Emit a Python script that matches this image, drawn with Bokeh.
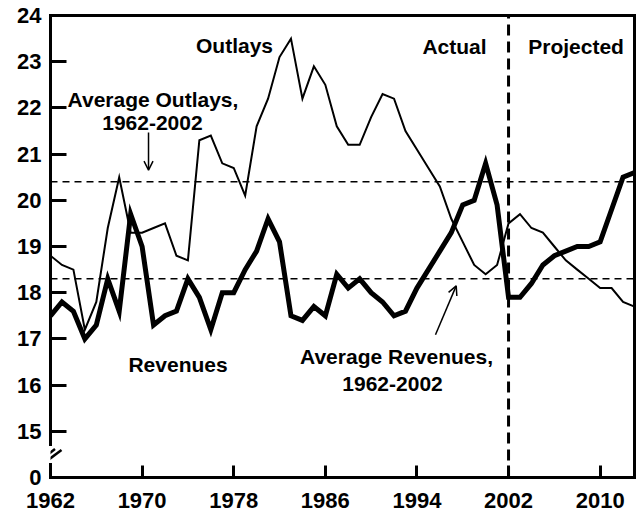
from bokeh.plotting import figure
from bokeh.models import Range1d, LinearAxis, FixedTicker, Label, Arrow, OpenHead
from bokeh.embed import file_html
from bokeh.resources import INLINE

# ---------------- data ----------------
years = list(range(1962, 2014))
outlays = [18.8, 18.6, 18.5, 17.2, 17.8, 19.4, 20.5, 19.3, 19.3, 19.4,
           19.5, 18.8, 18.7, 21.3, 21.4, 20.8, 20.7, 20.1, 21.6, 22.2,
           23.1, 23.5, 22.2, 22.9, 22.5, 21.6, 21.2, 21.2, 21.8, 22.3,
           22.2, 21.5, 21.1, 20.7, 20.3, 19.6, 19.1, 18.6, 18.4, 18.6,
           19.5, 19.7, 19.4, 19.3, 19.0, 18.7, 18.5, 18.3, 18.1, 18.1,
           17.8, 17.7]
revenues = [17.5, 17.8, 17.6, 17.0, 17.3, 18.3, 17.6, 19.7, 19.0, 17.3,
            17.5, 17.6, 18.3, 17.9, 17.2, 18.0, 18.0, 18.5, 18.9, 19.6,
            19.1, 17.5, 17.4, 17.7, 17.5, 18.4, 18.1, 18.3, 18.0, 17.8,
            17.5, 17.6, 18.1, 18.5, 18.9, 19.3, 19.9, 20.0, 20.8, 19.9,
            17.9, 17.9, 18.2, 18.6, 18.8, 18.9, 19.0, 19.0, 19.1, 19.8,
            20.5, 20.6]
avg_outlays = 20.4
avg_revenues = 18.3
split_year = 2002
x_ticks = [1962, 1970, 1978, 1986, 1994, 2002, 2010]
y_ticks = [15, 16, 17, 18, 19, 20, 21, 22, 23, 24]
y_label_ticks = [14, 15, 16, 17, 18, 19, 20, 21, 22, 23, 24]
y_zero_label = {14: "0"}

FONT = "Liberation Sans"
X0, X1 = 1962, 2013
Y0, Y1 = 14, 24
BREAK_LO, BREAK_HI = 14.28, 14.713

p = figure(width=637, height=516, output_backend="svg", toolbar_location=None,
           x_range=Range1d(X0, X1), y_range=Range1d(Y0, Y1),
           x_axis_location=None, y_axis_location=None,
           min_border_left=50, min_border_right=3, min_border_top=15,
           min_border_bottom=39)
p.outline_line_color = None
p.xgrid.grid_line_color = None
p.ygrid.grid_line_color = None
p.background_fill_color = "white"
p.border_fill_color = "white"


def style_axis(ax, tick_in, standoff, size="22px"):
    ax.axis_line_width = 3
    ax.axis_line_color = "black"
    ax.axis_line_cap = "square"
    ax.major_tick_line_width = 3
    ax.major_tick_line_color = "black"
    ax.major_tick_in = tick_in
    ax.major_tick_out = 0
    ax.minor_tick_line_color = None
    ax.major_label_text_font = FONT
    ax.major_label_text_font_style = "bold"
    ax.major_label_text_font_size = size
    ax.major_label_text_color = "black"
    ax.major_label_standoff = standoff


def hide_labels(ax, ticks):
    ax.major_label_overrides = {t: "" for t in ticks}
    ax.major_label_text_alpha = 0
    ax.major_label_text_font_size = "1px"
    ax.major_label_standoff = 0


# bottom axis
xax = LinearAxis(ticker=FixedTicker(ticks=x_ticks))
style_axis(xax, 12, 15)
p.add_layout(xax, "below")

# left axis: short stub below the break
yax_stub = LinearAxis(ticker=FixedTicker(ticks=[Y0]), bounds=(Y0, BREAK_LO))
style_axis(yax_stub, 0, 0)
yax_stub.major_tick_line_alpha = 0
hide_labels(yax_stub, [Y0])
p.add_layout(yax_stub, "left")

# left axis: main line above the break, with inward ticks
yax_main = LinearAxis(ticker=FixedTicker(ticks=y_ticks), bounds=(BREAK_HI, Y1))
style_axis(yax_main, 16, 0)
hide_labels(yax_main, y_ticks)
p.add_layout(yax_main, "left")

# left axis labels (0, 15 ... 24)
yax_lab = LinearAxis(ticker=FixedTicker(ticks=y_label_ticks),
                     major_label_overrides=y_zero_label)
style_axis(yax_lab, 0, 9)
yax_lab.axis_line_alpha = 0
yax_lab.major_tick_line_alpha = 0
p.add_layout(yax_lab, "left")

# top and right frame lines
tax = LinearAxis(ticker=FixedTicker(ticks=[X0]))
style_axis(tax, 0, 0)
tax.major_tick_line_alpha = 0
hide_labels(tax, [X0])
p.add_layout(tax, "above")
rax = LinearAxis(ticker=FixedTicker(ticks=[Y0]))
style_axis(rax, 0, 0)
rax.major_tick_line_alpha = 0
hide_labels(rax, [Y0])
p.add_layout(rax, "right")

# series
p.line(years, outlays, line_color="black", line_width=2, line_join="miter")
p.line(years, revenues, line_color="black", line_width=5, line_join="miter")

# average lines
p.segment(x0=[X0, X0], x1=[X1, X1], y0=[avg_outlays, avg_revenues],
          y1=[avg_outlays, avg_revenues], line_color="black", line_width=1.5,
          line_dash="7 5")

# actual / projected divider
p.segment(x0=[split_year], x1=[split_year], y0=[Y0], y1=[Y1],
          line_color="black", line_width=3, line_dash="11 6")

# axis break slashes
for xs, ys, xe, ye in [(1960.908, 14.335, 1962.393, 14.616),
                       (1961.432, 14.313, 1962.961, 14.594)]:
    p.add_layout(Arrow(start=None, end=None, x_start=xs, y_start=ys, x_end=xe, y_end=ye,
                       line_color="black", line_width=2.5))


def lab(x, y, t):
    p.add_layout(Label(x=x, y=y, text=t, text_align="center", text_baseline="alphabetic",
                       text_font=FONT, text_font_style="bold", text_font_size="21px",
                       text_color="black"))


lab(1978.07, 23.34, "Outlays")
lab(1997.28, 23.32, "Actual")
lab(2007.9, 23.32, "Projected")
lab(1970.95, 22.186, "Average Outlays,")
lab(1970.90, 21.667, "1962-2002")
lab(1973.14, 16.44, "Revenues")
lab(1992.22, 16.613, "Average Revenues,")
lab(1991.87, 16.03, "1962-2002")

p.add_layout(Arrow(end=OpenHead(size=9, line_width=1.5, line_color="black"),
                   x_start=1970.56, y_start=21.47, x_end=1970.56, y_end=20.652,
                   line_width=1.5, line_color="black"))
p.add_layout(Arrow(end=OpenHead(size=9, line_width=1.5, line_color="black"),
                   x_start=1995.62, y_start=17.09, x_end=1997.43, y_end=18.147,
                   line_width=1.5, line_color="black"))

open("out.html", "w").write(file_html(p, INLINE))
